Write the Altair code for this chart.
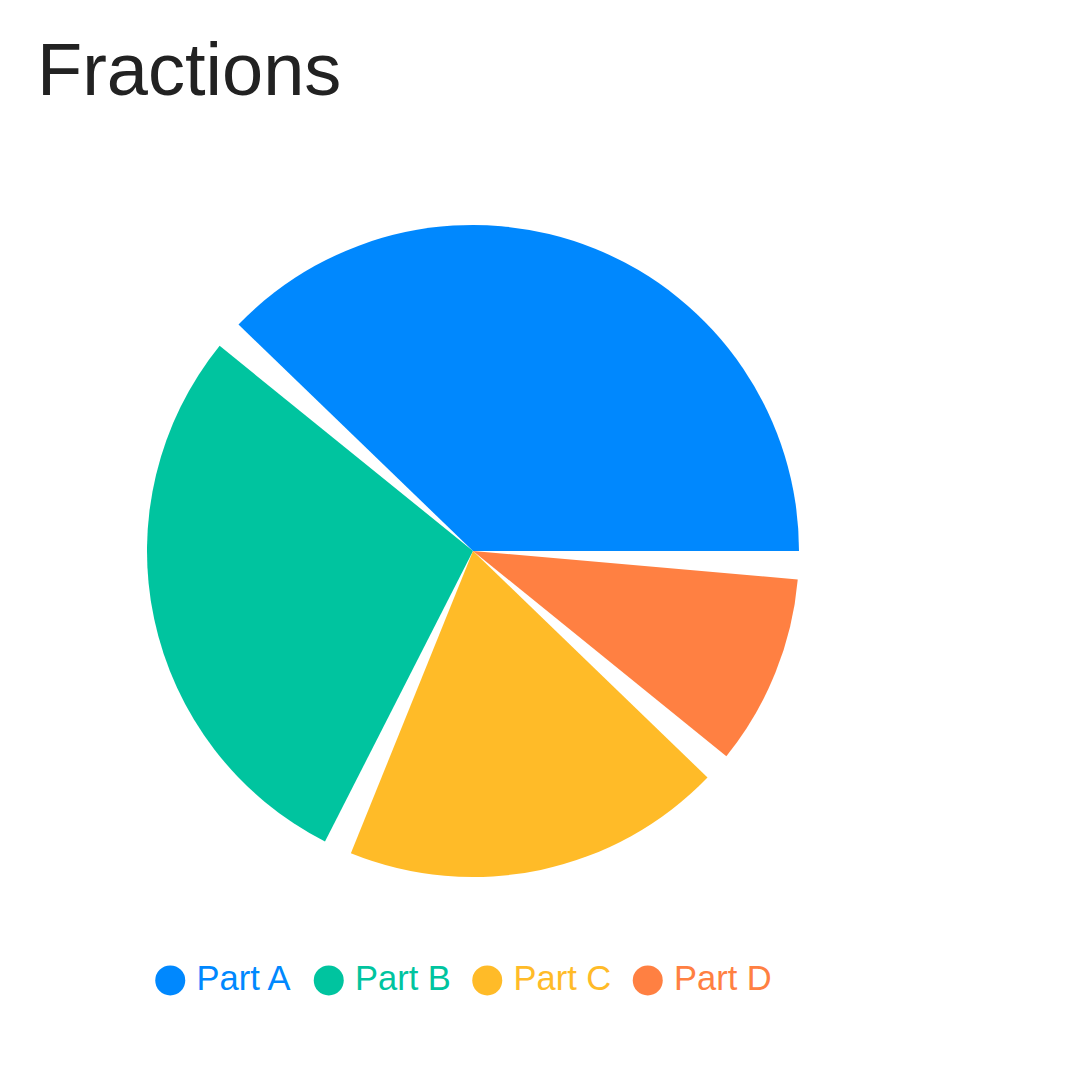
import math
import altair as alt
import pandas as pd

categories = ["Part A", "Part B", "Part C", "Part D"]
values = [40, 30, 20, 10]
colors = ["#0088FE", "#00C49F", "#FFBB28", "#FF8042"]
PAD_DEG = 5

total = sum(values)
n = len(values)
gap_units = total * PAD_DEG / (360 - n * PAD_DEG)
domain_max = total + n * gap_units

df = pd.DataFrame({"category": categories, "value": values, "order": list(range(n))})

chart = (
    alt.Chart(df)
    .transform_calculate(padded=f"datum.value + {gap_units}")
    .transform_stack(stack="padded", groupby=[], as_=["t0", "t1"], sort=[alt.SortField("order")])
    .transform_calculate(t2=f"datum.t1 - {gap_units}")
    .mark_arc(outerRadius=326)
    .encode(
        theta=alt.Theta("t0:Q", scale=alt.Scale(domain=[0, domain_max], range=[2.5 * math.pi, 0.5 * math.pi])),
        theta2="t2:Q",
        color=alt.Color(
            "category:N",
            scale=alt.Scale(domain=categories, range=colors),
            legend=alt.Legend(
                orient="none",
                legendX=6,
                legendY=738,
                direction="horizontal",
                title=None,
                symbolType="circle",
                symbolSize=900,
                symbolStrokeWidth=0,
                symbolOpacity=1,
                labelFontSize=34.5,
                labelFont="Liberation Sans",
                labelColor=alt.ExprRef("scale('color', datum.value)"),
                columnPadding=18.5,
                labelOffset=9,
            ),
        ),
        order=alt.Order("order:Q"),
    )
    .properties(
        width=652,
        height=652,
        autosize=alt.AutoSizeParams(type="none"),
        padding={"left": 139, "top": 217, "right": 275, "bottom": 207},
        title=alt.TitleParams(
            "Fractions",
            anchor="start",
            frame="group",
            fontSize=74,
            font="Liberation Sans",
            fontWeight="normal",
            color="#222222",
            dx=-110,
            offset=114,
        ),
    )
    .configure_view(stroke=None)
)

chart.save("out.html", embed_options={"renderer": "svg", "actions": False})
